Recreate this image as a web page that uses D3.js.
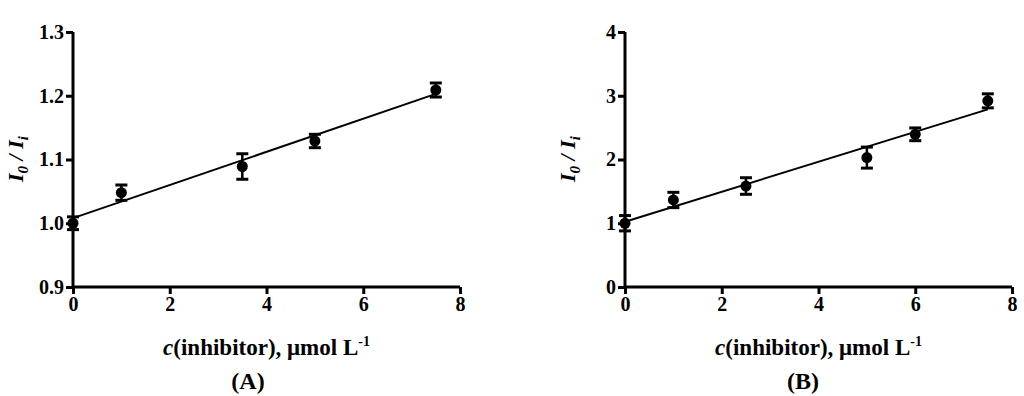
<!DOCTYPE html>
<html>
<head>
<meta charset="utf-8">
<script src="https://cdn.jsdelivr.net/npm/d3@7"></script>
<style>
  body { margin: 0; background: #fff; }
</style>
</head>
<body>
<svg width="1024" height="396"></svg>
<script>
// Panel A data
var concA = [0, 1, 3.5, 5, 7.5];
var ratioA = [1.0, 1.048, 1.089, 1.129, 1.209];
var errA = [0.01, 0.012, 0.02, 0.0105, 0.011];
var fitA = [1.008, 0.026]; // intercept, slope
var yTicksA = [0.9, 1.0, 1.1, 1.2, 1.3];

// Panel B data
var concB = [0, 1, 2.5, 5, 6, 7.5];
var ratioB = [1.0, 1.365, 1.584, 2.03, 2.395, 2.92];
var errB = [0.12, 0.12, 0.13, 0.165, 0.1, 0.11];
var fitB = [1.024, 0.235];
var yTicksB = [0, 1, 2, 3, 4];

var xTicks = [0, 2, 4, 6, 8];

var FONT = "Liberation Serif";
var svg = d3.select("svg");

function drawPanel(opts) {
  var x = d3.scaleLinear().domain([0, 8]).range([opts.left, opts.right]);
  var y = d3.scaleLinear().domain(opts.yDomain).range([287, 32]);

  var g = svg.append("g").attr("font-family", FONT);

  // axes
  var xAxis = g.append("g")
    .attr("transform", "translate(0,287)")
    .call(d3.axisBottom(x).tickValues(xTicks).tickSize(7).tickPadding(3).tickFormat(d3.format("d")));
  var yAxis = g.append("g")
    .attr("transform", "translate(" + opts.left + ",0)")
    .call(d3.axisLeft(y).tickValues(opts.yTicks).tickSize(7).tickPadding(2).tickFormat(opts.fmt));

  [xAxis, yAxis].forEach(function (a) {
    a.attr("font-family", FONT).attr("font-size", 20);
    a.select(".domain").attr("stroke", "#000").attr("stroke-width", 3);
    a.selectAll(".tick line").attr("stroke", "#000").attr("stroke-width", 3);
    a.selectAll(".tick text")
      .attr("fill", "#000")
      .attr("font-family", FONT)
      .attr("font-size", 20)
      .attr("font-weight", "bold");
  });
  xAxis.select(".domain").attr("d", "M" + opts.left + ",0H" + opts.right);
  yAxis.select(".domain").attr("d", "M0,287V32");

  // fit line
  g.append("line")
    .attr("x1", x(0)).attr("y1", y(opts.fit[0]))
    .attr("x2", x(7.5)).attr("y2", y(opts.fit[0] + opts.fit[1] * 7.5))
    .attr("stroke", "#000").attr("stroke-width", 2);

  var pts = opts.conc.map(function (c, i) {
    return { c: c, v: opts.ratio[i], e: opts.err[i] };
  });

  // error bars
  var eb = g.selectAll(".eb").data(pts).enter().append("g");
  eb.append("line")
    .attr("x1", function (d) { return x(d.c); })
    .attr("x2", function (d) { return x(d.c); })
    .attr("y1", function (d) { return y(d.v - d.e); })
    .attr("y2", function (d) { return y(d.v + d.e); })
    .attr("stroke", "#000").attr("stroke-width", 2.5);
  [-1, 1].forEach(function (s) {
    eb.append("line")
      .attr("x1", function (d) { return x(d.c) - 6; })
      .attr("x2", function (d) { return x(d.c) + 6; })
      .attr("y1", function (d) { return y(d.v + s * d.e); })
      .attr("y2", function (d) { return y(d.v + s * d.e); })
      .attr("stroke", "#000").attr("stroke-width", 3);
  });

  // markers
  g.selectAll("circle").data(pts).enter().append("circle")
    .attr("cx", function (d) { return x(d.c); })
    .attr("cy", function (d) { return y(d.v); })
    .attr("r", 5.5)
    .attr("fill", "#000");

  // y title
  var yt = g.append("text")
    .attr("transform", "translate(" + (opts.left - 50) + ",159) rotate(-90)")
    .attr("text-anchor", "middle")
    .attr("font-family", FONT)
    .attr("font-size", 22)
    .attr("font-weight", "bold")
    .attr("font-style", "italic");
  yt.append("tspan").text("I");
  yt.append("tspan").attr("dy", 5).attr("font-size", 15).text("0");
  yt.append("tspan").attr("dy", -5).text(" / I");
  yt.append("tspan").attr("dy", 5).attr("font-size", 15).text("i");

  // x title
  var xt = g.append("text")
    .attr("x", (opts.left + opts.right) / 2)
    .attr("y", 355)
    .attr("text-anchor", "middle")
    .attr("font-family", FONT)
    .attr("font-size", 23)
    .attr("font-weight", "bold");
  xt.append("tspan").attr("font-style", "italic").text("c");
  xt.append("tspan").text("(inhibitor), \u03bcmol L");
  xt.append("tspan").attr("dy", -9).attr("font-size", 14).text("-1");

  // panel label
  g.append("text")
    .attr("x", opts.labelX)
    .attr("y", 389)
    .attr("text-anchor", "middle")
    .attr("font-family", FONT)
    .attr("font-size", 24)
    .attr("font-weight", "bold")
    .text(opts.label);
}

drawPanel({
  left: 73, right: 460, yDomain: [0.9, 1.3], yTicks: yTicksA, fmt: d3.format(".1f"),
  conc: concA, ratio: ratioA, err: errA, fit: fitA, label: "(A)", labelX: 248
});
drawPanel({
  left: 625, right: 1012, yDomain: [0, 4], yTicks: yTicksB, fmt: d3.format("d"),
  conc: concB, ratio: ratioB, err: errB, fit: fitB, label: "(B)", labelX: 803
});
</script>
</body>
</html>
